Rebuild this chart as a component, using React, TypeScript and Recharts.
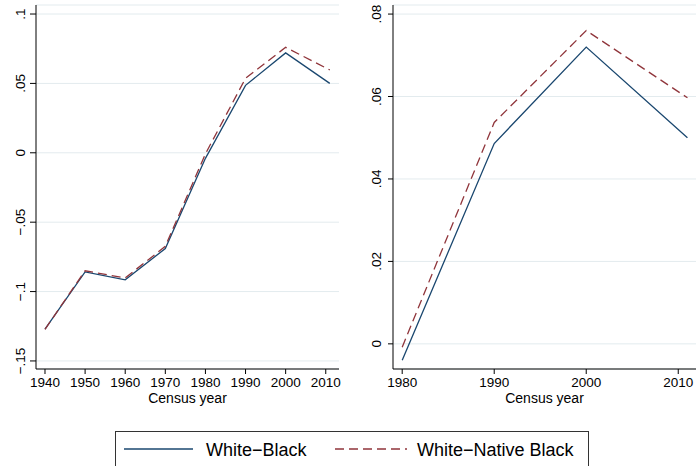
import { LineChart, Line, XAxis, YAxis, CartesianGrid, Label } from "recharts";

const years = [1940, 1950, 1960, 1970, 1980, 1990, 2000, 2011];
const whiteBlack = [-0.127, -0.0858, -0.0915, -0.069, -0.004, 0.0486, 0.072, 0.05];
const whiteNativeBlack = [-0.1272, -0.085, -0.0902, -0.0674, -0.0008, 0.0537, 0.076, 0.0597];

const leftXTicks = [1940, 1950, 1960, 1970, 1980, 1990, 2000, 2010];
const rightXTicks = [1980, 1990, 2000, 2010];
const leftYTicks = [-0.15, -0.1, -0.05, 0, 0.05, 0.1];
const rightYTicks = [0, 0.02, 0.04, 0.06, 0.08];

const data = years.map((year, i) => ({
  year,
  wb: whiteBlack[i],
  wnb: whiteNativeBlack[i],
}));
const recent = data.filter((d) => d.year >= 1980);

const FONT = "'Liberation Sans', Arial, Helvetica, sans-serif";
const NAVY = "#1a476f";
const MAROON = "#90353b";
const GRID = "#e3ebee";

// stata style labels: .05, -.1, 0
const fmt = (v: number) => {
  if (v === 0) return "0";
  const s = String(Math.abs(v)).replace(/^0/, "");
  return (v < 0 ? "\u2212" : "") + s;
};

const VertTick = (props: any) => {
  const { x, y, payload } = props;
  return (
    <text
      x={x}
      y={y}
      transform={`rotate(-90, ${x}, ${y})`}
      textAnchor="middle"
      fontSize={13.5}
      fontFamily={FONT}
      fill="#000"
    >
      {fmt(payload.value)}
    </text>
  );
};

function Panel(props: {
  rows: typeof data;
  width: number;
  rightMargin: number;
  yWidth: number;
  xDomain: [number, number];
  yDomain: [number, number];
  xTicks: number[];
  yTicks: number[];
  yTickSize: number;
  yTickMargin: number;
}) {
  const { rows, width, yWidth, xDomain, yDomain, xTicks, yTicks } = props;
  return (
    <LineChart
      width={width}
      height={410}
      data={rows}
      margin={{ top: 5, right: props.rightMargin, left: 0, bottom: 0 }}
      style={{ fontFamily: FONT }}
    >
      <CartesianGrid vertical={false} stroke={GRID} strokeWidth={1} />
      <XAxis
        dataKey="year"
        type="number"
        domain={xDomain}
        ticks={xTicks}
        allowDataOverflow
        height={41}
        stroke="#000"
        tickSize={5}
        tickMargin={3}
        tick={{ fill: "#000", fontSize: 13.5, fontFamily: FONT }}
      >
        <Label
          value="Census year"
          position="insideBottom"
          offset={7}
          style={{ fill: "#000", fontSize: 14, fontFamily: FONT }}
        />
      </XAxis>
      <YAxis
        type="number"
        domain={yDomain}
        ticks={yTicks}
        allowDataOverflow
        width={yWidth}
        stroke="#000"
        tickSize={props.yTickSize}
        tickMargin={props.yTickMargin}
        tick={<VertTick />}
      />
      <Line
        dataKey="wb"
        stroke={NAVY}
        strokeWidth={1.3}
        dot={false}
        isAnimationActive={false}
      />
      <Line
        dataKey="wnb"
        stroke={MAROON}
        strokeWidth={1.3}
        strokeDasharray="9 5"
        dot={false}
        isAnimationActive={false}
      />
    </LineChart>
  );
}

export default function App() {
  return (
    <div
      style={{
        position: "absolute",
        left: 0,
        top: 0,
        width: 696,
        height: 466,
        background: "#fff",
        overflow: "hidden",
        fontFamily: FONT,
      }}
    >
      <div style={{ position: "absolute", left: 0, top: 0 }}>
        <Panel
          rows={data}
          width={348}
          rightMargin={9}
          yWidth={36}
          xDomain={[1937.76, 2013.3]}
          yDomain={[-0.1558, 0.1065]}
          xTicks={leftXTicks}
          yTicks={leftYTicks}
          yTickSize={6}
          yTickMargin={5}
        />
      </div>
      <div style={{ position: "absolute", left: 348, top: 0 }}>
        <Panel
          rows={recent}
          width={348}
          rightMargin={0}
          yWidth={45}
          xDomain={[1979, 2011.93]}
          yDomain={[-0.0061, 0.0822]}
          xTicks={rightXTicks}
          yTicks={rightYTicks}
          yTickSize={5}
          yTickMargin={7}
        />
      </div>
      <svg
        width={696}
        height={46}
        style={{ position: "absolute", left: 0, top: 420 }}
      >
        <rect x={115.5} y={11.5} width={473} height={40} fill="#fff" stroke="#333" strokeWidth={1} />
        <line x1={124} y1={29} x2={193} y2={29} stroke={NAVY} strokeWidth={1.3} />
        <text x={206} y={35.5} fontSize={18} fontFamily={FONT} fill="#000">
          White{"\u2212"}Black
        </text>
        <line x1={335} y1={29} x2={407} y2={29} stroke={MAROON} strokeWidth={1.3} strokeDasharray="9 5" />
        <text x={417} y={35.5} fontSize={18} fontFamily={FONT} fill="#000">
          White{"\u2212"}Native Black
        </text>
      </svg>
    </div>
  );
}
